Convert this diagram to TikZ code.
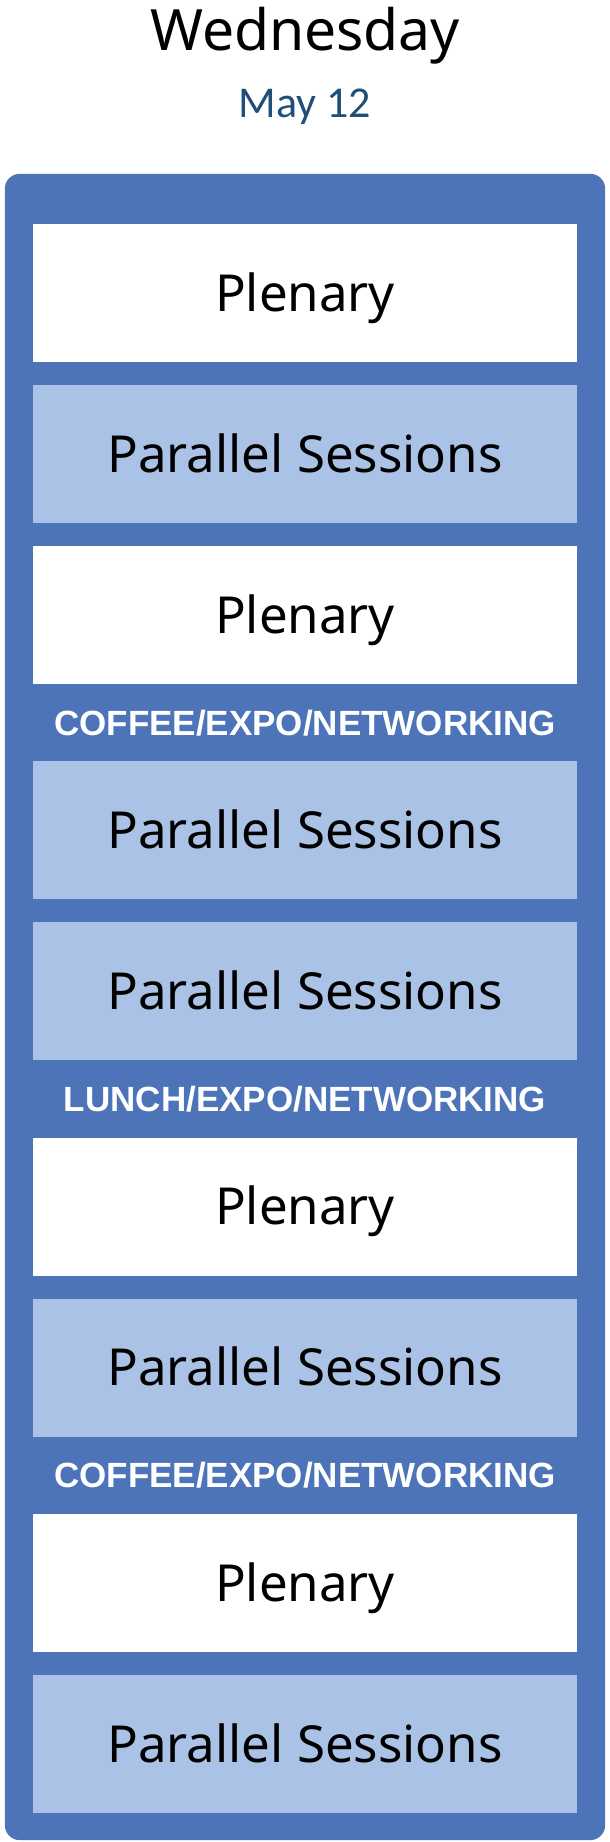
\documentclass[tikz,border=0pt]{standalone}
\usepackage{fontspec}
\setmainfont{Noto Sans}
\newfontfamily\datefont{Carlito}
\newfontfamily\breakfont{Liberation Sans}
\usepackage{tikz}
\usetikzlibrary{backgrounds}

\definecolor{framecol}{HTML}{4D74B9}
\definecolor{parcol}{HTML}{A9C2E5}
\definecolor{datecol}{HTML}{1F4E79}

\begin{document}
\begin{tikzpicture}[x=1pt, y=1pt, node distance=161pt,
        slot/.style={rectangle, fill=white, inner sep=0pt,
            minimum width=544pt, minimum height=138pt,
            text height=36.4pt, text depth=0pt,
            font=\fontsize{51}{60}\selectfont},
        parslot/.style={slot, fill=parcol},
        breaklabel/.style={inner sep=0pt, text=white,
            text height=25pt, text depth=0pt,
            font=\fontsize{35}{42}\breakfont\bfseries}]
        \useasboundingbox (0,0) rectangle (610,-1842);

        \node (day) [anchor=base, font=\fontsize{57}{66}\selectfont] at (305,-50) {Wednesday};
        \node (date) [anchor=base, text=datecol, font=\fontsize{44}{52}\datefont] at (305,-117) {May 12};

        \node (plen1) [slot] at (305,-293) {Plenary};
        \node (par1) [parslot, below of=plen1] {Parallel Sessions};
        \node (plen2) [slot, below of=par1] {Plenary};
        \node (par2) [parslot, below of=plen2, node distance=215.3pt] {Parallel Sessions};
        \node (par3) [parslot, below of=par2] {Parallel Sessions};
        \node (plen3) [slot, below of=par3, node distance=215.3pt] {Plenary};
        \node (par4) [parslot, below of=plen3] {Parallel Sessions};
        \node (plen4) [slot, below of=par4, node distance=215.3pt] {Plenary};
        \node (par5) [parslot, below of=plen4] {Parallel Sessions};

        \node (break1) [breaklabel, below of=plen2, node distance=107.65pt] {COFFEE/EXPO/NETWORKING};
        \node (break2) [breaklabel, below of=par3, node distance=107.65pt] {LUNCH/EXPO/NETWORKING};
        \node (break3) [breaklabel, below of=par4, node distance=107.65pt] {COFFEE/EXPO/NETWORKING};

        \begin{scope}[on background layer]
            \fill[framecol, rounded corners=15pt] ([shift={(-28pt,50pt)}]plen1.north west) rectangle ([shift={(28pt,-27pt)}]par5.south east);
        \end{scope}

    \end{tikzpicture}
\end{document}
